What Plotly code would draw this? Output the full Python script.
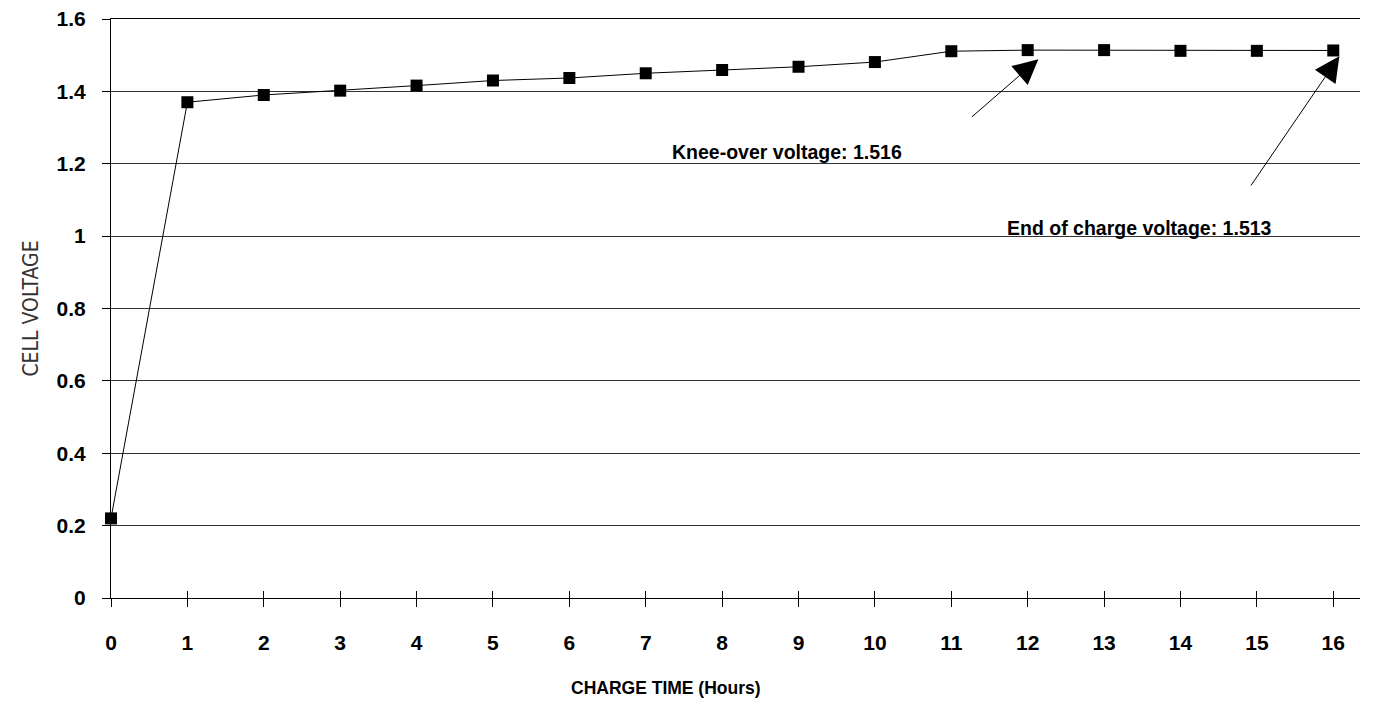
import plotly.graph_objects as go

# charge time (hours) and measured cell voltage
hours = list(range(17))
voltage = [0.22, 1.370, 1.390, 1.402, 1.416, 1.430, 1.437, 1.450, 1.459, 1.468,
           1.481, 1.511, 1.514, 1.514, 1.512, 1.512, 1.513]

x_ticks = list(range(17))
y_ticks = [0, 0.2, 0.4, 0.6, 0.8, 1, 1.2, 1.4, 1.6]
y_labels = ["0", "0.2", "0.4", "0.6", "0.8", "1", "1.2", "1.4", "1.6"]

knee_text = "Knee-over voltage: 1.516"
end_text = "End of charge voltage: 1.513"

bold = dict(family="Arial, Liberation Sans", size=21, color="black", weight="bold")
note_font = dict(family="Arial, Liberation Sans", size=19.5, color="black", weight="bold")

fig = go.Figure()
fig.add_trace(
    go.Scatter(
        x=hours,
        y=voltage,
        mode="lines+markers",
        line=dict(color="black", width=1),
        marker=dict(symbol="square", size=12, color="black"),
        cliponaxis=False,
        showlegend=False,
    )
)

# text labels
fig.add_annotation(x=8.85, y=1.232, text=knee_text, showarrow=False, font=note_font)
fig.add_annotation(x=13.47, y=1.022, text=end_text, showarrow=False, font=note_font)

# arrows
fig.add_annotation(x=12.14, y=1.489, ax=11.25, ay=1.326, axref="x", ayref="y",
                   text="", showarrow=True, arrowhead=2, arrowsize=5,
                   arrowwidth=1, arrowcolor="black")
fig.add_annotation(x=16.08, y=1.497, ax=14.91, ay=1.136, axref="x", ayref="y",
                   text="", showarrow=True, arrowhead=2, arrowsize=5,
                   arrowwidth=1, arrowcolor="black")

# x axis title sits left of the plot centre in the original
fig.add_annotation(x=0.444, y=-0.155, xref="paper", yref="paper",
                   xanchor="center", yanchor="middle",
                   text="CHARGE TIME (Hours)", showarrow=False,
                   font=dict(family="Arial, Liberation Sans", size=17.5, color="black", weight="bold"))

fig.update_layout(
    width=1376,
    height=695,
    margin=dict(l=103, r=24, t=11, b=105),
    plot_bgcolor="white",
    paper_bgcolor="white",
    xaxis=dict(
        range=[0, 16.35],
        automargin=False,
        tickmode="array",
        tickvals=x_ticks,
        ticks="outside",
        ticklen=8,
        tickcolor="black",
        ticklabelstandoff=18,
        tickfont=bold,
        showgrid=False,
        showline=True,
        mirror=True,  # top border line at 1.6
        linecolor="black",
        linewidth=1,
        zeroline=False,
    ),
    # second copy of the x axis only to draw the inner half of the crossing ticks
    xaxis2=dict(
        overlaying="x",
        matches="x",
        side="bottom",
        automargin=False,
        tickmode="array",
        tickvals=x_ticks,
        ticks="inside",
        ticklen=7,
        tickcolor="black",
        showticklabels=False,
        showgrid=False,
        showline=False,
        zeroline=False,
    ),
    yaxis=dict(
        range=[0, 1.6],
        automargin=False,
        tickmode="array",
        tickvals=y_ticks,
        ticktext=y_labels,
        ticks="outside",
        ticklen=8,
        tickcolor="black",
        ticklabelstandoff=12,
        ticklabeloverflow="allow",
        tickfont=bold,
        showgrid=True,
        gridcolor="#333333",
        gridwidth=1,
        showline=True,
        linecolor="black",
        linewidth=1,
        zeroline=False,
        title=dict(text="CELL VOLTAGE",
                   font=dict(family="Liberation Sans Narrow, DejaVu Sans Condensed", size=21, color="#333333"),
                   standoff=12),
    ),
)

# invisible trace so xaxis2 is drawn
fig.add_trace(go.Scatter(x=[hours[0]], y=[voltage[0]], xaxis="x2", mode="markers",
                         marker=dict(opacity=0), showlegend=False, hoverinfo="skip"))

fig.write_html("out.html")
